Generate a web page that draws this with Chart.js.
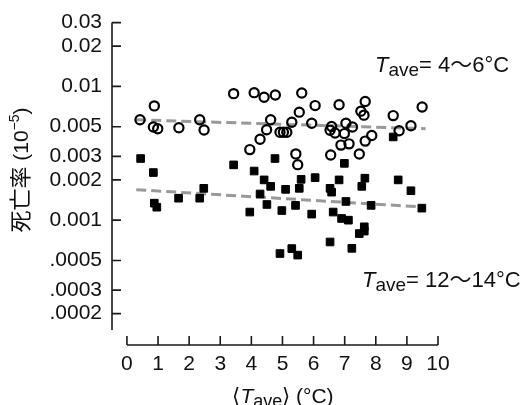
<!DOCTYPE html>
<html>
<head>
<meta charset="utf-8">
<script src="https://cdn.jsdelivr.net/npm/chart.js@4/dist/chart.umd.min.js"></script>
<style>
  html, body { margin: 0; padding: 0; background: #fff; }
  #wrap { width: 528px; height: 405px; }
</style>
</head>
<body>
<div id="wrap"><canvas id="chart" width="528" height="405"></canvas></div>
<script>
// Tave = 4~6°C (open circles)
const warmX = [0.42, 0.88, 0.85, 0.99, 1.67, 2.34, 2.48, 3.43, 4.09, 4.41, 4.77, 5.62, 3.95, 4.28, 4.49, 4.62,
  4.92, 5.03, 5.14, 5.30, 5.54, 5.43, 5.49, 6.05, 5.94, 6.82, 7.66, 7.52, 7.62, 8.56, 9.49, 6.58, 6.53, 6.69,
  7.04, 7.25, 6.99, 7.87, 7.66, 6.88, 7.14, 6.55, 7.47, 8.75, 9.13];
const warmY = [0.00563, 0.00715, 0.00497, 0.00483, 0.00491, 0.00563, 0.00472, 0.00883, 0.00898, 0.00829, 0.00862,
  0.00892, 0.00337, 0.00403, 0.00474, 0.00563, 0.00454, 0.00454, 0.00454, 0.00539, 0.00642, 0.00313, 0.0026,
  0.00719, 0.0053, 0.0073, 0.00772, 0.00653, 0.0061, 0.00605, 0.00702, 0.00501, 0.0047, 0.00449, 0.0053,
  0.00497, 0.00444, 0.0043, 0.0039, 0.00364, 0.00372, 0.00307, 0.00312, 0.00466, 0.00508];

// Tave = 12~14°C (filled squares)
const coolX = [0.44, 0.85, 0.88, 0.96, 1.66, 2.34, 2.47, 3.43, 3.95, 4.09, 4.28, 4.41, 4.62, 4.50, 4.76, 4.98,
  5.10, 5.42, 5.54, 4.92, 5.30, 5.49, 5.60, 6.05, 6.53, 6.58, 5.94, 6.63, 6.53, 6.99, 6.82, 7.65, 7.55, 8.72,
  9.13, 7.04, 7.85, 9.48, 6.90, 7.12, 7.63, 7.63, 7.47, 7.23, 8.56];
const coolY = [0.00289, 0.00227, 0.00134, 0.00125, 0.00146, 0.00146, 0.00173, 0.00259, 0.00115, 0.00233, 0.00157,
  0.002, 0.00179, 0.00131, 0.00289, 0.00118, 0.0017, 0.00129, 0.00173, 0.000563, 0.000613, 0.000548, 0.00202,
  0.00208, 0.00173, 0.00162, 0.00111, 0.00115, 0.000687, 0.00266, 0.002, 0.00206, 0.00179, 0.002, 0.00166,
  0.00138, 0.00129, 0.00123, 0.00103, 0.001, 0.000892, 0.000829, 0.000794, 0.000616, 0.00419];

// fitted trend lines
const fitX = [0.3, 9.6];
const warmFitY = [0.00563, 0.00483];
const coolFitY = [0.00169, 0.00125];

const xTicks = [0, 1, 2, 3, 4, 5, 6, 7, 8, 9, 10];
const yTicks = [0.0002, 0.0003, 0.0005, 0.001, 0.002, 0.003, 0.005, 0.01, 0.02, 0.03];
const yTickLabels = ['.0002', '.0003', '.0005', '0.001', '0.002', '0.003', '0.005', '0.01', '0.02', '0.03'];

const pts = (xs, ys) => xs.map((v, i) => ({ x: v, y: ys[i] }));

const FONT = '"Liberation Sans", Arial, "Noto Sans CJK JP", sans-serif';

function drawRuns(ctx, x, y, runs) {
  runs.forEach(r => {
    ctx.font = r.font;
    ctx.fillText(r.t, x, y + (r.dy || 0));
    x += ctx.measureText(r.t).width + (r.gap || 0);
  });
}
function runsWidth(ctx, runs) {
  let w = 0;
  runs.forEach(r => { ctx.font = r.font; w += ctx.measureText(r.t).width + (r.gap || 0); });
  return w;
}

const decor = {
  id: 'decor',
  afterDraw(chart) {
    const { ctx, chartArea } = chart;
    const x = chart.scales.x, y = chart.scales.y;
    ctx.save();
    // detached axes with inward ticks
    ctx.strokeStyle = '#1a1a1a';
    ctx.lineWidth = 1.6;
    ctx.beginPath();
    const ax = chartArea.left;
    ctx.moveTo(ax, y.getPixelForValue(yTicks[yTicks.length - 1]));
    ctx.lineTo(ax, chartArea.bottom - 15);
    yTicks.forEach(v => {
      const p = y.getPixelForValue(v);
      ctx.moveTo(ax, p); ctx.lineTo(ax + 9, p);
    });
    const by = chartArea.bottom;
    ctx.moveTo(x.getPixelForValue(xTicks[0]), by);
    ctx.lineTo(x.getPixelForValue(xTicks[xTicks.length - 1]), by);
    xTicks.forEach(v => {
      const p = x.getPixelForValue(v);
      ctx.moveTo(p, by); ctx.lineTo(p, by - 9);
    });
    ctx.stroke();

    ctx.fillStyle = '#111';
    ctx.textBaseline = 'alphabetic';
    ctx.textAlign = 'left';
    const it = 'italic 22px ' + FONT, rg = '22px ' + FONT, sb = '19px ' + FONT;

    // series labels
    drawRuns(ctx, 375, 72, [
      { t: 'T', font: it }, { t: 'ave', font: sb, dy: 4 }, { t: '= 4\u301c6°C', font: rg }
    ]);
    drawRuns(ctx, 362, 287, [
      { t: 'T', font: it }, { t: 'ave', font: sb, dy: 4 }, { t: '= 12\u301c14°C', font: rg }
    ]);

    // x axis title
    const xt = 'italic 21px ' + FONT, xg = '21px ' + FONT;
    const xr = [
      { t: '\u27e8', font: xg }, { t: 'T', font: xt }, { t: 'ave', font: '18px ' + FONT, dy: 4 },
      { t: '\u27e9 (°C)', font: xg }
    ];
    drawRuns(ctx, 283 - runsWidth(ctx, xr) / 2, 403, xr);

    // y axis title
    ctx.translate(28, 170);
    ctx.rotate(-Math.PI / 2);
    const yr = [
      { t: '死亡率', font: '22px "Noto Sans CJK JP", sans-serif' },
      { t: ' (10', font: '21px ' + FONT }, { t: '\u22125', font: '14px ' + FONT, dy: -9 },
      { t: ')', font: '21px ' + FONT }
    ];
    drawRuns(ctx, -runsWidth(ctx, yr) / 2, 0, yr);
    ctx.restore();
  }
};

new Chart(document.getElementById('chart'), {
  type: 'scatter',
  data: {
    datasets: [
      {
        label: 'Tave = 4~6°C', data: pts(warmX, warmY),
        pointStyle: 'circle', pointRadius: 4.6, pointBorderWidth: 2.2,
        pointBorderColor: '#000', pointBackgroundColor: 'rgba(255,255,255,0)'
      },
      {
        label: 'Tave = 12~14°C', data: pts(coolX, coolY),
        pointStyle: 'rect', pointRadius: 5.4, pointBorderWidth: 1,
        pointBorderColor: '#000', pointBackgroundColor: '#000'
      },
      {
        type: 'line', label: 'fit 4~6', data: pts(fitX, warmFitY),
        borderColor: '#999', borderWidth: 3, borderDash: [10, 5], pointRadius: 0, fill: false
      },
      {
        type: 'line', label: 'fit 12~14', data: pts(fitX, coolFitY),
        borderColor: '#999', borderWidth: 3, borderDash: [10, 5], pointRadius: 0, fill: false
      }
    ]
  },
  options: {
    responsive: false,
    animation: false,
    layout: { padding: { left: 0, top: 20, right: 90, bottom: 0 } },
    plugins: { legend: { display: false }, tooltip: { enabled: false } },
    scales: {
      x: {
        type: 'linear', min: -0.48, max: 10,
        afterBuildTicks: s => { s.ticks = xTicks.map(v => ({ value: v })); },
        afterFit: s => { s.height = 60; },
        grid: { display: false, drawTicks: false }, border: { display: false },
        ticks: { color: '#111', font: { family: FONT, size: 21 }, padding: 7, maxRotation: 0, autoSkip: false }
      },
      y: {
        type: 'logarithmic', min: 0.0001166, max: 0.03,
        afterBuildTicks: s => { s.ticks = yTicks.map(v => ({ value: v })); },
        afterFit: s => { s.width = 112; },
        grid: { display: false, drawTicks: false }, border: { display: false },
        ticks: {
          color: '#111', font: { family: FONT, size: 21 }, padding: 10, autoSkip: false,
          callback: v => { const i = yTicks.indexOf(v); return i >= 0 ? yTickLabels[i] : ''; }
        }
      }
    }
  },
  plugins: [decor]
});
</script>
</body>
</html>
